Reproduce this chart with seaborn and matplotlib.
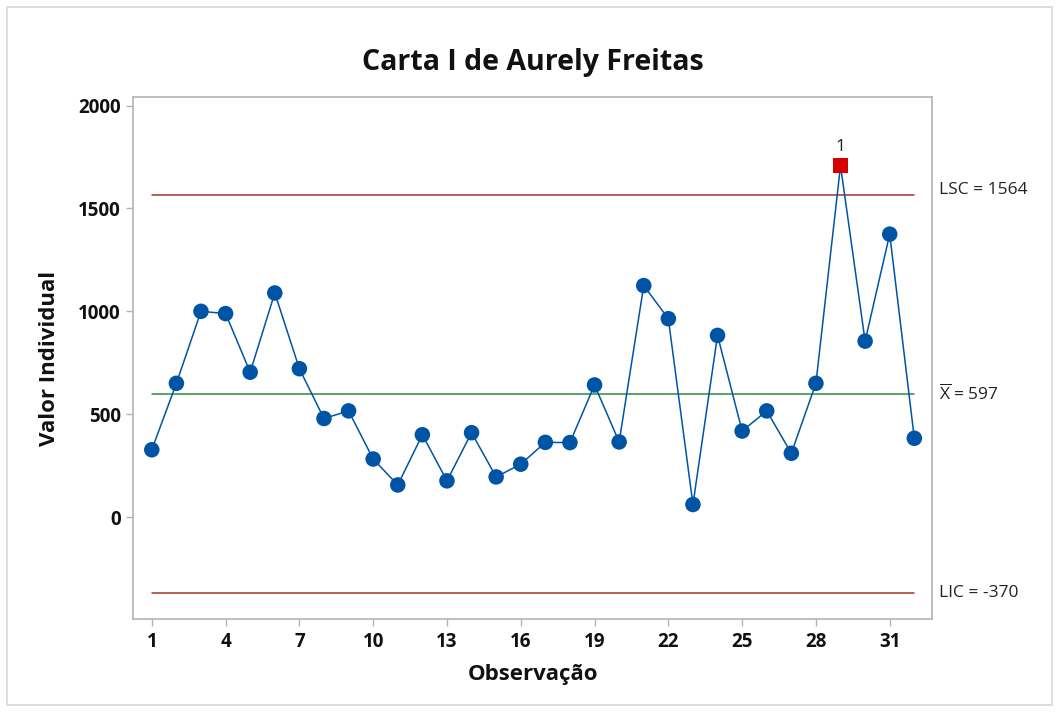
import pandas as pd
import seaborn as sns
import matplotlib.pyplot as plt
from matplotlib.patches import Rectangle

### Data
obs = list(range(1, 33))
values = [327, 650, 1000, 989, 704, 1089, 721, 479, 516, 282, 156, 400,
          176, 410, 195, 257, 363, 362, 642, 365, 1125, 964, 61, 883,
          418, 516, 310, 650, 1708, 855, 1375, 383]
lsc = 1564
centre = 597
lic = -370
x_ticks = [1, 4, 7, 10, 13, 16, 19, 22, 25, 28, 31]
y_ticks = [0, 500, 1000, 1500, 2000]

df = pd.DataFrame({'Observacao': obs, 'Valor': values})
df['fora'] = (df['Valor'] > lsc) | (df['Valor'] < lic)
normal = df[~df['fora']]
fora = df[df['fora']]

sns.set_theme(style="white")
plt.rcParams['font.family'] = ['Open Sans', 'DejaVu Sans']
plt.rcParams['mathtext.fontset'] = 'custom'
plt.rcParams['mathtext.rm'] = 'Open Sans'

blue = '#0054a6'
red_line = '#a83430'
green_line = '#2e8b3e'

fig = plt.figure(figsize=(10.6, 7.13), dpi=100)
ax = fig.add_axes([0.1258, 0.1314, 0.7537, 0.7321])

# control limits
for val, col in [(lsc, red_line), (centre, green_line), (lic, red_line)]:
    ax.plot([obs[0], obs[-1]], [val, val], color=col, lw=1.1, zorder=1)

# series
sns.lineplot(data=df, x='Observacao', y='Valor', color=blue, lw=1.1, ax=ax, zorder=2)
sns.scatterplot(data=normal, x='Observacao', y='Valor', color=blue, s=125,
                edgecolor='none', ax=ax, zorder=3)
sns.scatterplot(data=fora, x='Observacao', y='Valor', color='#d40000', marker='s',
                s=120, edgecolor='none', ax=ax, zorder=3)
for _, r in fora.iterrows():
    ax.annotate('1', (r['Observacao'], r['Valor']), xytext=(0, 8),
                textcoords='offset points', ha='center', va='bottom',
                fontsize=12.5, color='#222222')

ax.set_xlim(0.25, 32.73)
ax.set_ylim(-497, 2040)
ax.set_xticks(x_ticks)
ax.set_yticks(y_ticks)

# right-side labels
tr = ax.get_yaxis_transform()
lab_kw = dict(xycoords=tr, textcoords='offset points', va='center', ha='left',
              fontsize=12.5, color='#222222')
ax.annotate('LSC = 1564', (1.009, lsc), xytext=(0, 4), **lab_kw)
ax.annotate(r'$\overline{\mathrm{X}}$ = 597', (1.009, centre), xytext=(0, 0), **lab_kw)
ax.annotate('LIC = -370', (1.009, lic), xytext=(0, 0), **lab_kw)

for s in ax.spines.values():
    s.set_color('#b4b4b4')
    s.set_linewidth(1.2)
ax.tick_params(bottom=True, left=True, length=5, width=1, color='#b4b4b4',
               labelsize=13.5, labelcolor='#111111', pad=4)
for lab in ax.get_xticklabels() + ax.get_yticklabels():
    lab.set_fontweight('bold')

ax.set_xlabel('Observação', fontsize=16, fontweight='bold', color='#111111')
ax.set_ylabel('Valor Individual', fontsize=16, fontweight='bold', color='#111111')
ax.xaxis.set_label_coords(0.5, -0.085)
ax.yaxis.set_label_coords(-0.0916, 0.5)
ax.set_title('Carta I de Aurely Freitas', fontsize=20.5, fontweight='bold',
             color='#111111', pad=20)

# light outer frame
fig.patches.append(Rectangle((7 / 1060, 8 / 713), 1045 / 1060, 698 / 713,
                             transform=fig.transFigure, fill=False,
                             edgecolor='#d8d8d8', lw=1.2))

fig.savefig('out.png', dpi=100)
